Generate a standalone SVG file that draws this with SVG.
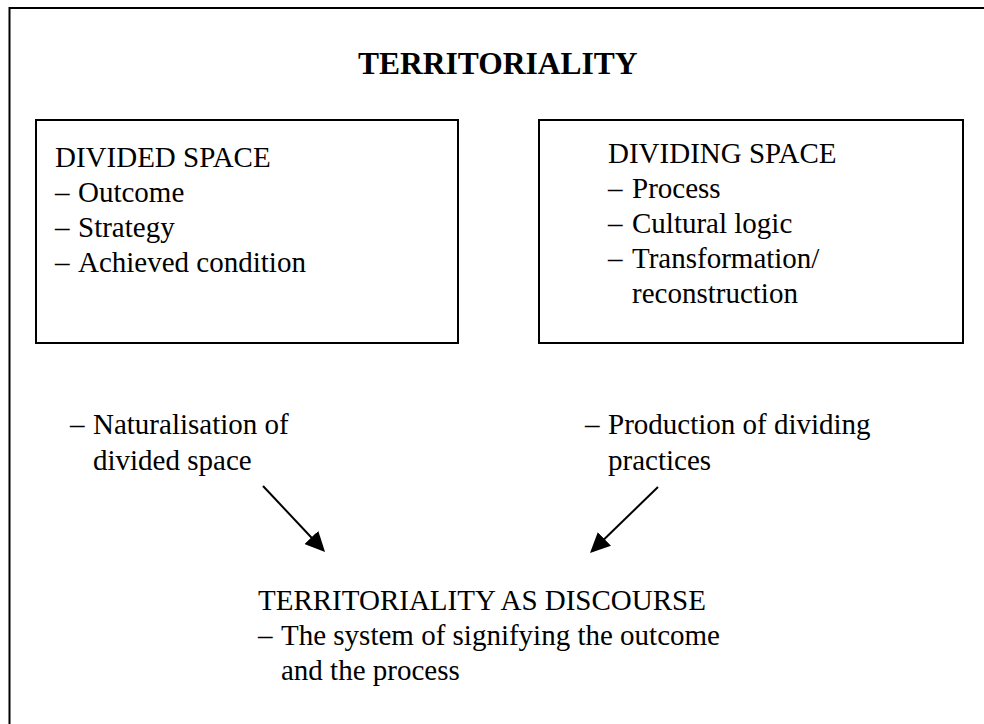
<svg xmlns="http://www.w3.org/2000/svg" width="984" height="724" viewBox="0 0 984 724">
  <style>
    .txt { font-family: "Liberation Serif", "Times New Roman", serif; font-size: 29px; fill: #000; }
    .title { font-family: "Liberation Serif", "Times New Roman", serif; font-size: 31.5px; font-weight: bold; fill: #000; }
    .box { fill: none; stroke: #000; stroke-width: 2; }
    .conn { stroke: #000; stroke-width: 2; fill: none; marker-end: url(#arrow); }
  </style>
  <defs>
    <marker id="arrow" markerUnits="userSpaceOnUse" viewBox="0 0 20 19" markerWidth="20" markerHeight="19" refX="10" refY="9.5" orient="auto">
      <path d="M0,0 L20,9.5 L0,19 z" fill="#000"/>
    </marker>
  </defs>
  <rect width="984" height="724" fill="#fff"/>

  <!-- outer frame (runs past the right and bottom edges) -->
  <rect x="9.5" y="8" width="1000" height="740" class="box"/>

  <g id="title">
    <text class="title" x="358" y="74">TERRITORIALITY</text>
  </g>

  <g id="divided-space">
    <rect x="36" y="120" width="422" height="223" class="box"/>
    <text class="txt" x="55" y="167">DIVIDED SPACE</text>
    <text class="txt" y="202"><tspan x="55">–</tspan><tspan x="78">Outcome</tspan></text>
    <text class="txt" y="237"><tspan x="55">–</tspan><tspan x="78">Strategy</tspan></text>
    <text class="txt" y="272"><tspan x="55">–</tspan><tspan x="78">Achieved condition</tspan></text>
  </g>

  <g id="dividing-space">
    <rect x="539" y="120" width="424" height="223" class="box"/>
    <text class="txt" x="608" y="163">DIVIDING SPACE</text>
    <text class="txt" y="198"><tspan x="608">–</tspan><tspan x="632">Process</tspan></text>
    <text class="txt" y="233"><tspan x="608">–</tspan><tspan x="632">Cultural logic</tspan></text>
    <text class="txt" y="268"><tspan x="608">–</tspan><tspan x="632">Transformation/</tspan></text>
    <text class="txt" x="632" y="303">reconstruction</text>
  </g>

  <g id="naturalisation">
    <text class="txt" y="434"><tspan x="70">–</tspan><tspan x="93">Naturalisation of</tspan></text>
    <text class="txt" x="93" y="470">divided space</text>
  </g>

  <g id="production">
    <text class="txt" y="434"><tspan x="585">–</tspan><tspan x="608">Production of dividing</tspan></text>
    <text class="txt" x="608" y="470">practices</text>
  </g>

  <g id="discourse">
    <text class="txt" x="258" y="610">TERRITORIALITY AS DISCOURSE</text>
    <text class="txt" y="645"><tspan x="258">–</tspan><tspan x="281">The system of signifying the outcome</tspan></text>
    <text class="txt" x="281" y="680">and the process</text>
  </g>

  <g id="connectors">
    <line class="conn" x1="263" y1="486" x2="318.2" y2="544.7"/>
    <line class="conn" x1="658" y1="487" x2="597.2" y2="546"/>
  </g>
</svg>
